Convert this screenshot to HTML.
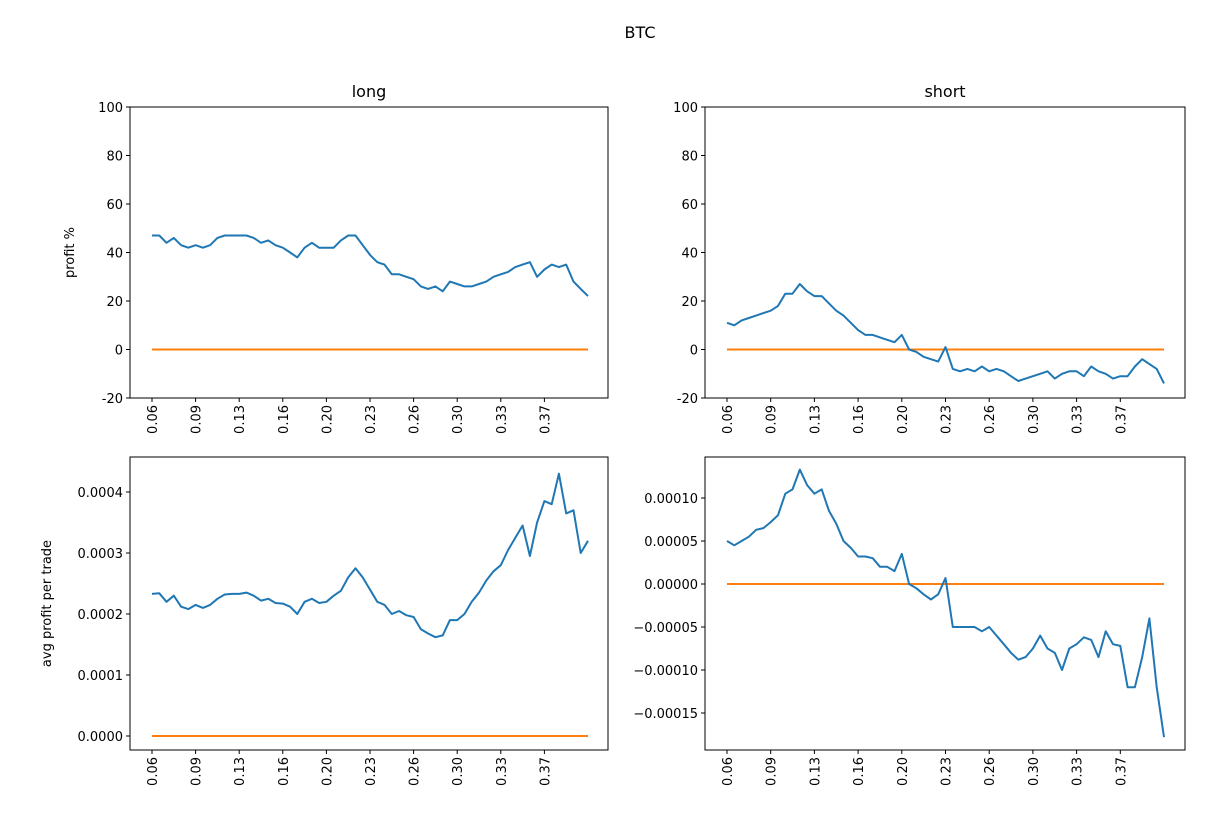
<!DOCTYPE html>
<html><head><meta charset="utf-8"><style>
body{margin:0;background:#fff;}
svg text{font-family:"DejaVu Sans","Liberation Sans",sans-serif;font-size:13px;fill:#000;}
</style></head><body>
<svg id="fig" width="1207" height="833" xmlns="http://www.w3.org/2000/svg">
<text x="640" y="38" text-anchor="middle" font-size="16" style="font-size:16px">BTC</text>
</svg>
<script>
const xTickLabels = ["0.06","0.09","0.13","0.16","0.20","0.23","0.26","0.30","0.33","0.37"];
const longProfit = [47,47,44,46,43,42,43,42,43,46,47,47,47,47,46,44,45,43,42,40,38,42,44,42,42,42,45,47,47,43,39,36,35,31,31,30,29,26,25,26,24,28,27,26,26,27,28,30,31,32,34,35,36,30,33,35,34,35,28,25,22];
const shortProfit = [11,10,12,13,14,15,16,18,23,23,27,24,22,22,19,16,14,11,8,6,6,5,4,3,6,0,-1,-3,-4,-5,1,-8,-9,-8,-9,-7,-9,-8,-9,-11,-13,-12,-11,-10,-9,-12,-10,-9,-9,-11,-7,-9,-10,-12,-11,-11,-7,-4,-6,-8,-14];
const longAvg = [2.33,2.34,2.2,2.3,2.12,2.08,2.15,2.1,2.15,2.25,2.32,2.33,2.33,2.35,2.3,2.22,2.25,2.18,2.17,2.12,2.0,2.2,2.25,2.18,2.2,2.3,2.38,2.6,2.75,2.6,2.4,2.2,2.15,2.0,2.05,1.98,1.95,1.75,1.68,1.62,1.65,1.9,1.9,2.0,2.2,2.35,2.55,2.7,2.8,3.05,3.25,3.45,2.95,3.5,3.85,3.8,4.3,3.65,3.7,3.0,3.2].map(v=>v*1e-4);
const shortAvg = [0.5,0.45,0.5,0.55,0.63,0.65,0.72,0.8,1.05,1.1,1.33,1.15,1.05,1.1,0.85,0.7,0.5,0.42,0.32,0.32,0.3,0.2,0.2,0.15,0.35,0.0,-0.05,-0.12,-0.18,-0.12,0.07,-0.5,-0.5,-0.5,-0.5,-0.55,-0.5,-0.6,-0.7,-0.8,-0.88,-0.85,-0.75,-0.6,-0.75,-0.8,-1.0,-0.75,-0.7,-0.62,-0.65,-0.85,-0.55,-0.7,-0.72,-1.2,-1.2,-0.85,-0.4,-1.2,-1.78].map(v=>v*1e-4);
const profitTicks = [100,80,60,40,20,0,-20];
const longAvgTicks = [0.0004,0.0003,0.0002,0.0001,0];
const shortAvgTicks = [0.0001,0.00005,0,-0.00005,-0.0001,-0.00015];

const NS="http://www.w3.org/2000/svg";
const svg=document.getElementById('fig');
function mk(tag,attrs,parent){const e=document.createElementNS(NS,tag);for(const k in attrs)e.setAttribute(k,attrs[k]);(parent||svg).appendChild(e);return e;}

function panel(o){
  const g=mk('g',{});
  
  
  const n=o.series.length;
  const xs=i=>o.x0+(i/(n-1))*(o.x1-o.x0);
  const ys=v=>o.yA+(v-o.vA)*(o.yB-o.yA)/(o.vB-o.vA);
  // zero line
  const zl=mk('line',{x1:xs(0),x2:xs(n-1),y1:ys(0),y2:ys(0),stroke:'#ff7f0e','stroke-width':2},g);
  
  
  const pts=o.series.map((v,i)=>xs(i).toFixed(1)+','+ys(v).toFixed(1)).join(' ');
  const pl=mk('polyline',{points:pts,fill:'none',stroke:'#1f77b4','stroke-width':2,'stroke-linejoin':'round'},g);
  
  
  const fr=mk('rect',{x:o.L,y:o.T,width:o.R-o.L,height:o.B-o.T,fill:'none',stroke:'#000','stroke-width':1},g);
  
  
  o.yticks.forEach(t=>{
    const y=ys(t);
    mk('line',{x1:o.L-4,x2:o.L,y1:y,y2:y,stroke:'#000'},g);
    const tx=mk('text',{x:o.L-7,y:y+5,'text-anchor':'end'},g);
    tx.textContent=o.fmt(t);
    
    
  });
  const step=(n-1)/10;
  xTickLabels.forEach((lab,k)=>{
    const x=xs(k*step);
    mk('line',{x1:x,x2:x,y1:o.B,y2:o.B+4,stroke:'#000'},g);
    const tx=mk('text',{x:0,y:0,'text-anchor':'end',transform:`translate(${x+5},${o.B+7}) rotate(-90)`},g);
    tx.textContent=lab;
    
    
  });
  if(o.title){const t=mk('text',{x:(o.L+o.R)/2,y:o.T-10,'text-anchor':'middle',style:'font-size:16px'},g);t.textContent=o.title;
    
    }
  if(o.ylabel){const t=mk('text',{x:0,y:0,'text-anchor':'middle',transform:`translate(${o.ylx},${(o.T+o.B)/2}) rotate(-90)`},g);t.textContent=o.ylabel;
    
    }
}
panel({name:'long-profit-panel',series:longProfit,L:130,R:608,T:107,B:398,x0:152,x1:588,vA:100,yA:107,vB:-20,yB:398,yticks:profitTicks,fmt:t=>String(t),title:'long',ylabel:'profit %',ylx:74});
panel({name:'short-profit-panel',series:shortProfit,L:705,R:1185,T:107,B:398,x0:727,x1:1164,vA:100,yA:107,vB:-20,yB:398,yticks:profitTicks,fmt:t=>String(t),title:'short'});
panel({name:'long-avg-panel',series:longAvg,L:130,R:608,T:457,B:750,x0:152,x1:588,vA:0,yA:736,vB:0.0004,yB:492,yticks:longAvgTicks,fmt:t=>t.toFixed(4),ylabel:'avg profit per trade',ylx:51});
panel({name:'short-avg-panel',series:shortAvg,L:705,R:1185,T:457,B:750,x0:727,x1:1164,vA:0,yA:584,vB:0.0001,yB:498,yticks:shortAvgTicks,fmt:t=>(t<0?'\u2212':'')+Math.abs(t).toFixed(5)});
</script>
</body></html>
